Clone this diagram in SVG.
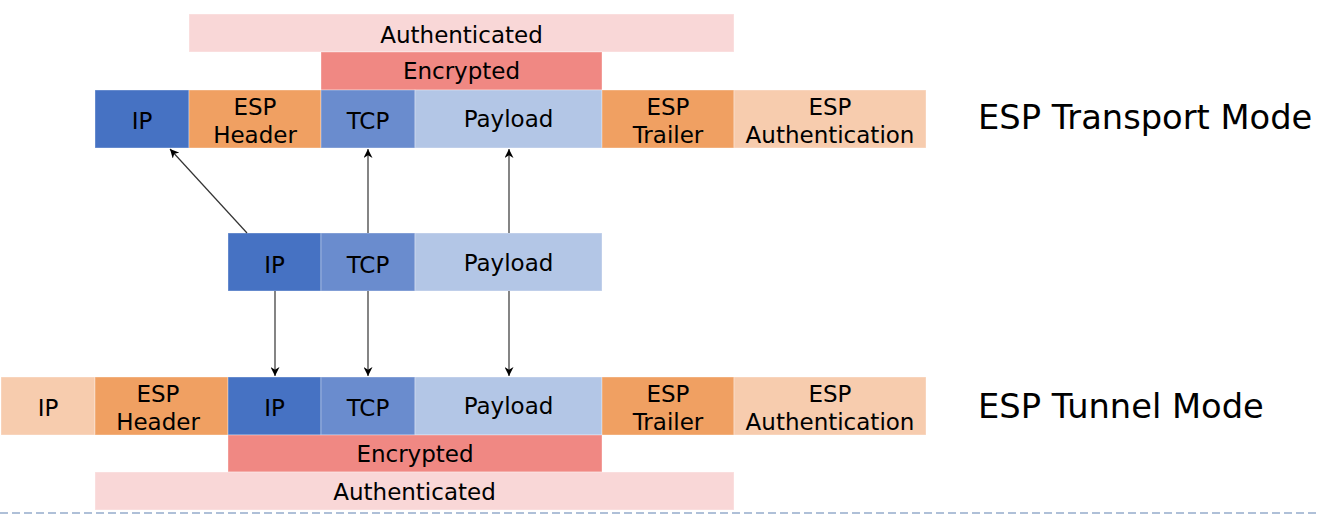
<svg xmlns="http://www.w3.org/2000/svg" width="1318" height="520" viewBox="0 0 1318 520">
<style>
text{font-family:"DejaVu Sans",sans-serif;font-size:23px;fill:#000;text-anchor:middle}
.title{font-size:33.7px;text-anchor:start}
.b{stroke:#ffffff;stroke-opacity:0.35;stroke-width:1}
.ip{fill:#4672C3}
.tcp{fill:#6A8CCE}
.pay{fill:#B3C6E6}
.esp{fill:#F0A062}
.lt{fill:#F7CCAE}
.enc{fill:#F08883}
.auth{fill:#F9D7D7}
.con{stroke:#333;stroke-width:1.2;fill:none;marker-end:url(#ah)}
</style>
<defs>
<marker id="ah" viewBox="0 0 10 10" refX="10" refY="5" markerWidth="9" markerHeight="9" markerUnits="userSpaceOnUse" orient="auto">
<path d="M0,0 L10,5 L0,10 L3,5 z" fill="#000"/>
</marker>
</defs>
<rect width="1318" height="520" fill="#fff"/>

<g id="transport">
<g id="t-auth"><rect class="auth b" x="189" y="14" width="545" height="38"/><text x="461.5" y="43">Authenticated</text></g>
<g id="t-enc"><rect class="enc b" x="321" y="52" width="281" height="38"/><text x="461.5" y="79">Encrypted</text></g>
<g id="t-ip"><rect class="ip b" x="95" y="90" width="94" height="58"/><text x="142" y="129">IP</text></g>
<g id="t-esph"><rect class="esp b" x="189" y="90" width="132" height="58"/><text x="255" y="115">ESP</text><text x="255" y="143">Header</text></g>
<g id="t-tcp"><rect class="tcp b" x="321" y="90" width="94" height="58"/><text x="368" y="129">TCP</text></g>
<g id="t-pay"><rect class="pay b" x="415" y="90" width="187" height="58"/><text x="508.5" y="127">Payload</text></g>
<g id="t-espt"><rect class="esp b" x="602" y="90" width="132" height="58"/><text x="668" y="115">ESP</text><text x="668" y="143">Trailer</text></g>
<g id="t-espa"><rect class="lt b" x="734" y="90" width="192" height="58"/><text x="830" y="115">ESP</text><text x="830" y="143">Authentication</text></g>
<g id="t-title"><text class="title" x="978" y="129">ESP Transport Mode</text></g>
</g>

<g id="original">
<g id="o-ip"><rect class="ip b" x="228" y="233" width="93" height="58"/><text x="274.5" y="273">IP</text></g>
<g id="o-tcp"><rect class="tcp b" x="321" y="233" width="94" height="58"/><text x="368" y="273">TCP</text></g>
<g id="o-pay"><rect class="pay b" x="415" y="233" width="187" height="58"/><text x="508.5" y="271">Payload</text></g>
</g>

<g id="tunnel">
<g id="n-oip"><rect class="lt b" x="1" y="377" width="94" height="58"/><text x="48" y="416">IP</text></g>
<g id="n-esph"><rect class="esp b" x="95" y="377" width="133" height="58"/><text x="158" y="402">ESP</text><text x="158" y="430">Header</text></g>
<g id="n-ip"><rect class="ip b" x="228" y="377" width="93" height="58"/><text x="274.5" y="416">IP</text></g>
<g id="n-tcp"><rect class="tcp b" x="321" y="377" width="94" height="58"/><text x="368" y="416">TCP</text></g>
<g id="n-pay"><rect class="pay b" x="415" y="377" width="187" height="58"/><text x="508.5" y="414">Payload</text></g>
<g id="n-espt"><rect class="esp b" x="602" y="377" width="132" height="58"/><text x="668" y="402">ESP</text><text x="668" y="430">Trailer</text></g>
<g id="n-espa"><rect class="lt b" x="734" y="377" width="192" height="58"/><text x="830" y="402">ESP</text><text x="830" y="430">Authentication</text></g>
<g id="n-enc"><rect class="enc b" x="228" y="435" width="374" height="37"/><text x="415" y="462">Encrypted</text></g>
<g id="n-auth"><rect class="auth b" x="95" y="472" width="639" height="38"/><text x="414.5" y="500">Authenticated</text></g>
<g id="n-title"><text class="title" x="978" y="418">ESP Tunnel Mode</text></g>
</g>

<g id="connectors">
<line class="con" x1="247" y1="233" x2="170" y2="149"/>
<line class="con" x1="368" y1="233" x2="368" y2="149"/>
<line class="con" x1="509" y1="233" x2="509" y2="149"/>
<line class="con" x1="275" y1="291" x2="275" y2="376"/>
<line class="con" x1="368" y1="291" x2="368" y2="376"/>
<line class="con" x1="509" y1="291" x2="509" y2="376"/>
</g>

<line x1="0" y1="513" x2="1318" y2="513" stroke="#AFC0D8" stroke-width="2" stroke-dasharray="8 4"/>
</svg>
